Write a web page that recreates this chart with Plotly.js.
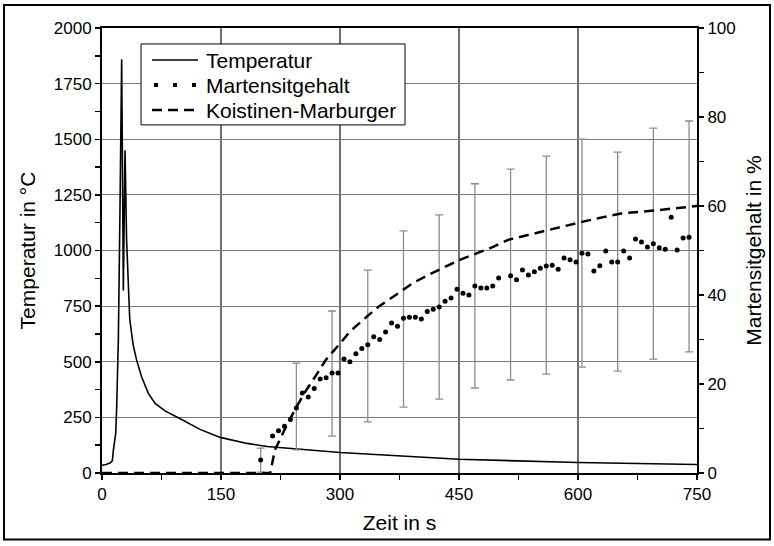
<!DOCTYPE html>
<html>
<head>
<meta charset="utf-8">
<script src="https://cdn.plot.ly/plotly-3.0.1.min.js"></script>
<style>
html,body{margin:0;padding:0;background:#fff;}
#chart{width:774px;height:546px;}
</style>
</head>
<body>
<div id="chart"></div>
<script>
// Temperature curve (left axis, °C)
const tempTime = [0, 5, 10, 13, 14.3, 17.3, 18.5, 20.6, 22.7, 24.8, 26.9, 29, 31, 35, 39.3, 43.7, 50, 58.4, 67, 80, 98, 123.5, 149, 183, 208, 246, 300, 350, 450, 600, 750];
const tempVal  = [35, 38, 45, 55, 102, 178, 297, 596, 1194, 1860, 820, 1450, 1047, 690, 575, 506, 431, 358, 313, 278, 245, 196, 160, 133, 119, 108, 92, 82, 62, 47, 38];

// Martensite content (right axis, %)
const martTime = [200, 215, 222.5, 230, 237.5, 245, 252.5, 260, 267.5, 275, 282.5, 290, 297.5, 305, 312.5, 320, 327.5, 335, 342.5, 350, 357.5, 365, 372.5, 380, 387.5, 395, 402.5, 410, 417.5, 425, 432.5, 440, 447.5, 455, 462.5, 470, 477.5, 485, 492.5, 500, 515, 522.5, 530, 537.5, 545, 552.5, 560, 567.5, 575, 582.5, 590, 597.5, 605, 612.5, 620, 627.5, 635, 642.5, 650, 657.5, 665, 672.5, 680, 687.5, 695, 702.5, 710, 717.5, 725, 732.5, 740];
const martVal  = [2.9, 8.3, 9.5, 10.5, 12, 14.6, 18, 17.1, 19, 21.1, 21.4, 22.5, 22.5, 25.6, 25, 26.8, 28, 28.8, 30.6, 30, 31.7, 33.7, 33, 34.8, 35, 35, 34.6, 36.3, 36.8, 37.3, 38.6, 39.3, 41.3, 40.4, 40, 42, 41.6, 41.6, 42, 43.8, 44.3, 43.4, 45.6, 44.5, 45.2, 46, 46.5, 46.7, 45.8, 48.3, 47.9, 47.4, 49.4, 49.2, 45.4, 46.6, 49.9, 47.4, 47.4, 49.9, 48.3, 52.6, 51.9, 50.8, 51.5, 50.6, 50.3, 57.5, 50.1, 52.8, 53];

// Error bars for martensite content (%)
const errTime   = [200, 245, 290, 335, 380, 425, 470, 515, 560, 605, 650, 695, 740];
const errTop    = [5.6, 24.7, 36.4, 45.6, 54.4, 58, 65, 68.3, 71.2, 75, 72.1, 77.5, 79.1];
const errBottom = [0.2, 5.2, 8.3, 11.5, 14.8, 16.6, 19.1, 20.9, 22.2, 23.8, 22.9, 25.6, 27.2];

// Koistinen-Marburger model (%)
const kmTime = [0, 212, 218, 225, 233, 245, 256, 270, 282, 301, 312, 329, 348, 367, 392, 411, 432, 451, 473, 493, 512, 537, 558, 586, 609, 632, 656, 681, 706, 729, 750];
const kmVal  = [0, 0, 5.2, 8, 10.8, 14.8, 18.2, 22, 25.4, 29.3, 31.7, 34.4, 37.3, 39.6, 42.7, 44.5, 46.3, 47.9, 49.4, 50.8, 52.4, 53.5, 54.4, 55.7, 56.6, 57.5, 58.4, 58.7, 59.1, 59.6, 60];

const seriesNames = ['Temperatur', 'Martensitgehalt', 'Koistinen-Marburger'];
const xTitle = 'Zeit in s';
const yTitle = 'Temperatur in °C';
const y2Title = 'Martensitgehalt in %';

const errMid = errTop.map((t, i) => (t + errBottom[i]) / 2);
const errPlus = errTop.map((t, i) => t - errMid[i]);

const FONT = 'Liberation Sans, Arial, sans-serif';
const TICKF = {family: FONT, size: 17, color: '#000'};
const TITLEF = {family: FONT, size: 21, color: '#000'};

const traces = [
  {
    x: errTime, y: errMid, yaxis: 'y2', type: 'scatter', mode: 'markers',
    marker: {size: 1, color: 'rgba(0,0,0,0)'},
    error_y: {type: 'data', symmetric: true, array: errPlus, color: '#8c8c8c', thickness: 1.3, width: 4},
    showlegend: false, hoverinfo: 'skip'
  },
  {
    x: tempTime, y: tempVal, type: 'scatter', mode: 'lines', name: seriesNames[0],
    line: {color: '#000', width: 1.6}, showlegend: false
  },
  {
    x: martTime, y: martVal, yaxis: 'y2', type: 'scatter', mode: 'markers', name: seriesNames[1],
    marker: {size: 5, color: '#000', symbol: 'circle'}, showlegend: false
  },
  {
    x: kmTime, y: kmVal, yaxis: 'y2', type: 'scatter', mode: 'lines', name: seriesNames[2],
    line: {color: '#000', width: 2.5, dash: '10px,6px'}, showlegend: false
  }
];

// Legend drawn as a box with samples and labels (paper coordinates)
const W = 595, H = 445.5, L = 102, B = 473.5;
const px = v => (v - L) / W;
const py = v => (B - v) / H;
const legendRows = [60, 85, 110];
const legendStyles = [
  {width: 1.6, dash: 'solid'},
  {width: 4, dash: '4px,15px'},
  {width: 2.5, dash: '10px,6px'}
];
const shapes = [
  {type: 'rect', xref: 'paper', yref: 'paper',
   x0: -0.1647, x1: 1.1227, y0: -0.1493, y1: 1.0516,
   line: {color: '#000', width: 2}, fillcolor: 'rgba(0,0,0,0)', layer: 'above'},
  {type: 'rect', xref: 'paper', yref: 'paper',
   x0: px(141), x1: px(405), y0: py(125), y1: py(44),
   line: {color: '#000', width: 1}, fillcolor: '#fff', layer: 'above'}
];
const annotations = [];
seriesNames.forEach((name, i) => {
  const st = legendStyles[i];
  shapes.push({type: 'line', xref: 'paper', yref: 'paper',
    x0: px(i === 1 ? 154 : 152), x1: px(198), y0: py(legendRows[i]), y1: py(legendRows[i]),
    line: {color: '#000', width: st.width, dash: st.dash}, layer: 'above'});
  annotations.push({xref: 'paper', yref: 'paper', x: px(204), y: py(legendRows[i] + 1),
    xanchor: 'left', yanchor: 'middle', showarrow: false, text: name,
    font: {family: FONT, size: 21, color: '#000'}});
});

const layout = {
  width: 774, height: 546,
  margin: {l: 102, r: 77, t: 28, b: 73},
  paper_bgcolor: '#fff', plot_bgcolor: '#fff',
  font: {family: FONT, size: 17, color: '#000'},
  showlegend: false,
  xaxis: {
    range: [0, 750], tickvals: [0, 150, 300, 450, 600, 750],
    showgrid: true, gridcolor: '#6f6f6f', gridwidth: 1.2,
    showline: true, linecolor: '#000', linewidth: 2, mirror: true,
    ticks: 'outside', ticklen: 5, tickwidth: 1.5, tickcolor: '#000',
    minor: {dtick: 75, ticks: 'outside', ticklen: 5, tickwidth: 1.5, tickcolor: '#000', showgrid: false},
    zeroline: false,
    tickfont: TICKF,
    title: {text: xTitle, font: TITLEF, standoff: 12}
  },
  yaxis: {
    range: [0, 2000], dtick: 250, tick0: 0,
    showgrid: true, gridcolor: '#7a7a7a', gridwidth: 1.2,
    showline: true, linecolor: '#000', linewidth: 2,
    ticks: 'outside', ticklen: 5, tickwidth: 1.5, tickcolor: '#000',
    minor: {dtick: 125, ticks: 'outside', ticklen: 5, tickwidth: 1.5, tickcolor: '#000', showgrid: false},
    zeroline: false,
    tickfont: TICKF,
    title: {text: yTitle, font: TITLEF, standoff: 12}
  },
  yaxis2: {
    range: [0, 100], dtick: 20, tick0: 0, overlaying: 'y', side: 'right',
    showgrid: false,
    showline: true, linecolor: '#000', linewidth: 2,
    ticks: 'outside', ticklen: 5, tickwidth: 1.5, tickcolor: '#000',
    minor: {dtick: 10, ticks: 'outside', ticklen: 5, tickwidth: 1.5, tickcolor: '#000', showgrid: false},
    zeroline: false,
    tickfont: TICKF,
    title: {text: y2Title, font: TITLEF, standoff: 12}
  },
  shapes: shapes,
  annotations: annotations
};

Plotly.newPlot('chart', traces, layout, {displayModeBar: false, staticPlot: true});
</script>
</body>
</html>
